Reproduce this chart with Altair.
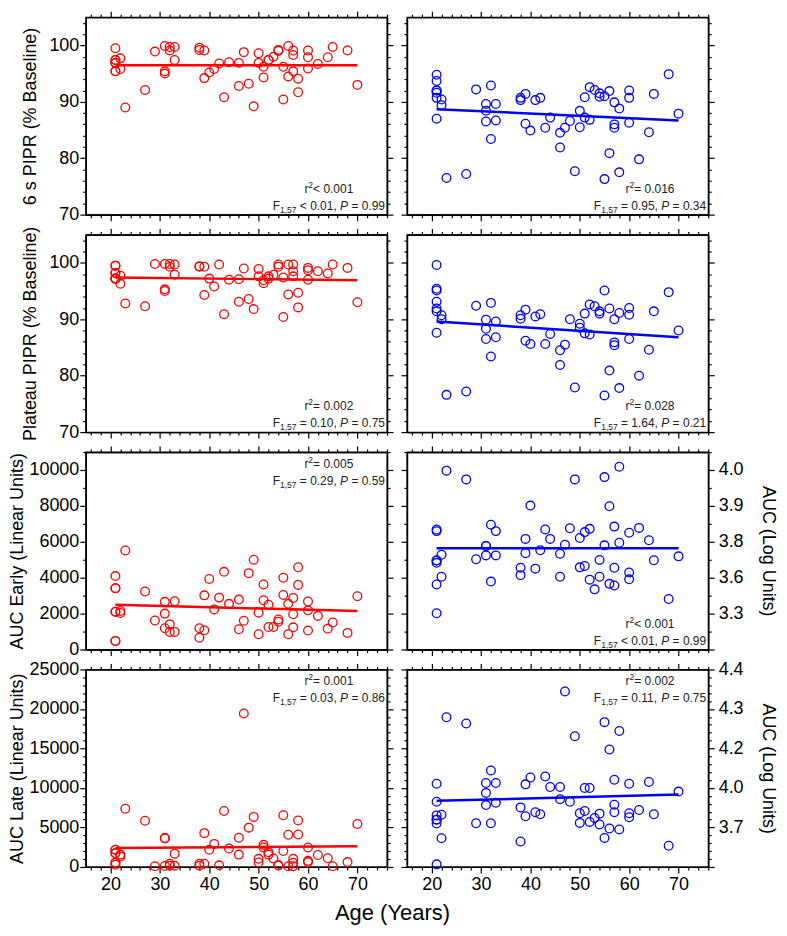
import altair as alt
import pandas as pd

FONT = "Liberation Sans"
RED = "#ff0000"
BLUE = "#0000ff"

# ---------------- data ----------------
AGES = ([21] * 7 + [22] * 2 + [23, 27, 29] + [31] * 3 + [32] * 2 + [33] * 2 + [38] * 2 + [39] * 2
        + [40, 41, 42, 43, 44] + [46] * 2 + [47, 48, 49] + [50] * 2 + [51] * 2 + [52] * 2 + [53]
        + [54] * 2 + [55] * 2 + [56] * 2 + [57] * 3 + [58] * 2 + [60] * 3 + [62, 64, 65, 68, 70])

PIPR6_RED = [99.5, 97.4, 97.4, 96.9, 96.9, 95.4, 95.4, 97.7, 95.8, 89.0, 92.1, 98.9,
             99.9, 95.4, 95.0, 99.7, 99.1, 99.7, 97.4, 99.6, 99.2, 99.1, 94.2,
             95.2, 95.8, 96.8, 90.8, 97.0, 96.9, 92.8, 98.8, 93.2, 89.2,
             98.6, 96.9, 96.2, 94.3, 97.4, 97.4, 98.0, 99.0, 99.2, 96.2, 90.4,
             99.9, 94.5, 99.1, 98.3, 95.4, 94.1, 91.7, 99.1, 97.9, 95.9,
             96.7, 97.9, 99.7, 99.1, 93.0]
PIPR6_BLUE = [94.8, 93.7, 92.0, 92.0, 91.6, 90.7, 87.0, 90.4, 89.4, 76.5, 77.2, 92.2,
              89.6, 88.4, 86.5, 92.9, 83.4, 89.6, 86.7, 90.7, 90.3, 91.4, 86.1,
              84.9, 90.3, 90.7, 85.4, 87.2, 84.5, 81.9, 85.4, 86.6, 77.7,
              88.4, 85.5, 87.2, 90.8, 92.6, 86.8, 92.1, 91.5, 90.9, 91.0, 76.3,
              91.9, 80.9, 89.9, 86.0, 85.4, 88.8, 77.5, 92.0, 90.7, 86.3,
              79.8, 84.6, 91.4, 94.9, 87.9]
PLATEAU_RED = [99.5, 99.5, 98.2, 98.2, 97.2, 97.2, 97.2, 97.7, 96.3, 92.8, 92.3, 99.8,
               99.8, 95.3, 95.0, 99.8, 99.3, 99.7, 97.9, 99.4, 99.3, 99.3, 94.3,
               97.2, 95.8, 99.7, 90.9, 97.0, 97.1, 93.1, 99.0, 93.6, 91.8,
               98.9, 97.6, 96.9, 96.4, 97.6, 97.2, 97.9, 99.7, 99.3, 97.4, 90.4,
               99.7, 94.4, 99.7, 98.5, 97.6, 94.7, 92.1, 99.1, 98.7, 97.0,
               98.5, 98.1, 99.7, 99.1, 93.0]
PLATEAU_BLUE = [99.6, 95.4, 95.1, 93.1, 91.9, 91.4, 87.6, 90.7, 90.0, 76.6, 77.2, 92.4,
                89.9, 88.3, 86.5, 92.9, 83.4, 89.6, 86.8, 90.7, 90.1, 91.7, 86.2,
                85.6, 90.5, 90.9, 85.6, 87.4, 84.5, 81.9, 85.5, 90.0, 77.9,
                89.2, 88.5, 87.5, 91.0, 92.6, 87.3, 92.3, 91.4, 91.0, 95.1, 76.5,
                91.9, 80.9, 90.0, 85.9, 85.4, 91.1, 77.8, 92.0, 90.8, 86.5,
                80.0, 84.6, 91.4, 94.8, 88.0]
EARLY_RED = [4091, 3418, 3418, 2109, 2109, 473, 473, 2145, 2036, 5514, 3236, 1618,
             2655, 2000, 1182, 1400, 982, 2691, 982, 1182, 655, 3018, 1073,
             3927, 2236, 2891, 4327, 2545, 2782, 1127, 1600, 4255, 5000,
             2055, 855, 3618, 2745, 2491, 1255, 1255, 1545, 1673, 4000, 3036,
             2545, 855, 2873, 1964, 1236, 4582, 3600, 2673, 2182, 1055,
             1873, 1164, 1509, 927, 2964]
EARLY_BLUE = [6685, 6595, 4955, 4955, 4829, 3622, 2018, 5279, 4054, 9964, 9477, 5027,
              5766, 5766, 5243, 6955, 3784, 6595, 5243, 4559, 4144, 6162, 5369,
              8018, 4505, 5532, 6685, 6162, 5333, 4054, 5838, 6757, 9477,
              6216, 4577, 6541, 4649, 6721, 3892, 3351, 4991, 4054, 9604, 5802,
              7982, 3658, 6847, 4559, 3568, 10180, 5946, 6505, 4288, 3910,
              6775, 6090, 4973, 2811, 5189]
LATE_RED = [2181, 2181, 1728, 1728, 535, 535, 288, 1564, 1317, 7366, 5844, 82,
            3663, 3621, 123, 412, 165, 1687, 165, 412, 165, 4280, 412,
            2181, 2922, 206, 7078, 2346, 3704, 1564, 19424, 4979, 6337,
            1029, 576, 2798, 2469, 1852, 1564, 1070, 206, 206, 6543, 2016,
            4074, 82, 1029, 535, 82, 5885, 4115, 2469, 782, 617,
            1523, 1111, 82, 617, 5432]
LATE_BLUE = [10542, 8264, 6529, 5992, 5992, 5496, 331, 6612, 3636, 18958, 18167, 5542,
             10625, 9375, 7833, 12208, 5542, 10625, 8125, 7542, 3223, 10458, 6417,
             11333, 6917, 6667, 11458, 10125, 10125, 8583, 22208, 8250, 16542,
             6800, 5579, 10000, 7083, 10000, 5702, 6198, 6750, 5372, 18333, 3678,
             14875, 4876, 11042, 7875, 6917, 17208, 4752, 10542, 6800, 6300,
             7208, 10750, 6667, 2686, 9542]

FIT_AGES = [21, 70]
FIT_PIPR6_RED = [96.5, 96.5]
FIT_PIPR6_BLUE = [88.7, 86.7]
FIT_PLATEAU_RED = [97.4, 96.9]
FIT_PLATEAU_BLUE = [89.6, 86.8]
FIT_EARLY_RED = [2490, 2145]
FIT_EARLY_BLUE = [5640, 5640]
FIT_LATE_RED = [2390, 2630]
FIT_LATE_BLUE = [8380, 9160]

STATS = [
    (("<", "0.001"), ("<", "0.01"), "0.99"),
    (("=", "0.016"), ("=", "0.95"), "0.34"),
    (("=", "0.002"), ("=", "0.10"), "0.75"),
    (("=", "0.028"), ("=", "1.64"), "0.21"),
    (("=", "0.005"), ("=", "0.29"), "0.59"),
    (("<", "0.001"), ("<", "0.01"), "0.99"),
    (("=", "0.001"), ("=", "0.03"), "0.86"),
    (("=", "0.002"), ("=", "0.11"), "0.75"),
]
STATS_TOP = [False, False, False, False, True, False, True, True]

X_MAJOR = [20, 30, 40, 50, 60, 70]
X_MINOR = [v for v in range(16, 77, 2) if v % 10 != 0]
PIPR_MAJOR = [70, 80, 90, 100]
PIPR_MINOR = [v for v in range(72, 106, 2) if v % 10 != 0]
EARLY_MAJOR = [0, 2000, 4000, 6000, 8000, 10000]
EARLY_MINOR = list(range(1000, 11001, 2000))
LATE_MAJOR = [0, 5000, 10000, 15000, 20000, 25000]
LATE_MINOR = [v for v in range(1000, 25000, 1000) if v % 5000 != 0]

W_PANEL = 302
H_PANEL = 198
LOG_EXPR = "datum.value > 0 ? format(log(datum.value) / LN10, '.1f') : ''"

# --------------- helpers ---------------
CW = {" ": 278, "=": 584, "<": 584, ",": 278, ".": 278, "F": 611, "P": 667, "r": 333}
for _d in "0123456789":
    CW[_d] = 556


def tw(s, fs):
    return sum(CW.get(c, 556) for c in s) * fs / 1000.0


def stat_frame(stat, top):
    (rrel, rval), (frel, fval), pval = stat
    line1 = [("r", 12, 0, False), ("2", 8.5, -5, False), (f"{rrel} {rval}", 12, 0, False)]
    line2 = [("F", 12, 0, False), ("1,57", 8.5, 3, False), (f" {frel} {fval}, ", 12, 0, False),
             ("P", 12, 0, True), (f" = {pval}", 12, 0, False)]
    w1 = sum(tw(t, f) for t, f, _, _ in line1)
    w2 = sum(tw(t, f) for t, f, _, _ in line2)
    x2 = W_PANEL - 2 - w2
    x1 = x2 + w2 / 2 - w1 / 2
    b1, b2 = (16, 33) if top else (H_PANEL - 22, H_PANEL - 5)
    rows = []
    for line, x, b in ((line1, x1, b1), (line2, x2, b2)):
        for t, f, dy, it in line:
            lead = len(t) - len(t.lstrip(" "))
            rows.append(dict(t=t.strip(" "), px=x + tw(t[:lead], f), py=b + dy, fs=f, it=it))
            x += tw(t, f)
    return pd.DataFrame(rows)


def ax(orient, values, size, labels=False, title=None, title_pad=4, expr=None, lab_pad=2):
    kw = dict(orient=orient, values=values, tickSize=size, tickWidth=1.2, tickColor="black",
              domain=True, domainColor="black", domainWidth=1.3, grid=False, ticks=True,
              labels=labels)
    if labels:
        kw.update(labelFont=FONT, labelFontSize=18, labelColor="black", labelPadding=lab_pad,
                  labelOverlap=False, format="d")
    if expr:
        kw["labelExpr"] = expr
    if title:
        kw.update(title=title, titleFont=FONT, titleFontSize=18, titleFontWeight="normal",
                  titleColor="black", titlePadding=title_pad)
    else:
        kw["title"] = None
    return alt.Axis(**kw)


def panel(vals, fit, color, ydom, ymaj, ymin, stat, top, left=True, left_title=None,
          left_pad=4, right_title=None, x_labels=False):
    df = pd.DataFrame({"age": AGES, "val": vals})
    fdf = pd.DataFrame({"age": FIT_AGES, "val": fit})
    xs = alt.Scale(domain=[15, 76], nice=False, zero=False)
    ys = alt.Scale(domain=ydom, nice=False, zero=False)
    pts = alt.Chart(df).mark_point(shape="circle", filled=False, color=color, size=76,
                                   strokeWidth=1.3, opacity=1).encode(
        x=alt.X("age:Q", scale=xs, axis=ax("bottom", X_MAJOR, 6, labels=x_labels, lab_pad=3)),
        y=alt.Y("val:Q", scale=ys, axis=ax("left", ymaj, 6, labels=left, title=left_title,
                                             title_pad=left_pad, lab_pad=1)),
    )
    line = alt.Chart(fdf).mark_line(color=color, strokeWidth=2.5).encode(
        x=alt.X("age:Q", scale=xs, axis=ax("top", X_MAJOR, 6)),
        y=alt.Y("val:Q", scale=ys, axis=ax("right", ymaj, 6, labels=bool(right_title),
                                             title=right_title, title_pad=15,
                                             expr=LOG_EXPR if right_title else None, lab_pad=4)),
    )
    minor1 = alt.Chart(fdf).mark_point(opacity=0).encode(
        x=alt.X("age:Q", scale=xs, axis=ax("bottom", X_MINOR, 3)),
        y=alt.Y("val:Q", scale=ys, axis=ax("left", ymin, 3)),
    )
    minor2 = alt.Chart(fdf).mark_point(opacity=0).encode(
        x=alt.X("age:Q", scale=xs, axis=ax("top", X_MINOR, 3)),
        y=alt.Y("val:Q", scale=ys, axis=ax("right", ymin, 3)),
    )
    sdf = stat_frame(stat, top)
    enc = dict(x=alt.X("px:Q", scale=None, axis=None), y=alt.Y("py:Q", scale=None, axis=None),
               text=alt.Text("t:N"), size=alt.Size("fs:Q", scale=None, legend=None))
    tn = alt.Chart(sdf[~sdf["it"]]).mark_text(align="left", baseline="alphabetic", font=FONT,
                                            color="#222222").encode(**enc)
    ti = alt.Chart(sdf[sdf["it"]]).mark_text(align="left", baseline="alphabetic", font=FONT,
                                           fontStyle="italic", color="#222222").encode(**enc)
    return (alt.layer(minor1, minor2, pts, line, tn, ti)
            .resolve_scale(x="independent", y="independent")
            .properties(width=W_PANEL, height=H_PANEL))


P_DOM = [70, 105]
panels = [
    panel(PIPR6_RED, FIT_PIPR6_RED, RED, P_DOM, PIPR_MAJOR, PIPR_MINOR, STATS[0], STATS_TOP[0],
          left_title="6 s PIPR (% Baseline)", left_pad=9),
    panel(PIPR6_BLUE, FIT_PIPR6_BLUE, BLUE, P_DOM, PIPR_MAJOR, PIPR_MINOR, STATS[1], STATS_TOP[1],
          left=False),
    panel(PLATEAU_RED, FIT_PLATEAU_RED, RED, P_DOM, PIPR_MAJOR, PIPR_MINOR, STATS[2], STATS_TOP[2],
          left_title="Plateau PIPR (% Baseline)", left_pad=9),
    panel(PLATEAU_BLUE, FIT_PLATEAU_BLUE, BLUE, P_DOM, PIPR_MAJOR, PIPR_MINOR, STATS[3],
          STATS_TOP[3], left=False),
    panel(EARLY_RED, FIT_EARLY_RED, RED, [0, 11000], EARLY_MAJOR, EARLY_MINOR, STATS[4],
          STATS_TOP[4], left_title="AUC Early (Linear Units)", left_pad=2),
    panel(EARLY_BLUE, FIT_EARLY_BLUE, BLUE, [0, 11000], EARLY_MAJOR, EARLY_MINOR, STATS[5],
          STATS_TOP[5], left=False, right_title="AUC (Log Units)"),
    panel(LATE_RED, FIT_LATE_RED, RED, [0, 25000], LATE_MAJOR, LATE_MINOR, STATS[6], STATS_TOP[6],
          left_title="AUC Late (Linear Units)", left_pad=2, x_labels=True),
    panel(LATE_BLUE, FIT_LATE_BLUE, BLUE, [0, 25000], LATE_MAJOR, LATE_MINOR, STATS[7],
          STATS_TOP[7], left=False, right_title="AUC (Log Units)", x_labels=True),
]

chart = (
    alt.concat(*panels, columns=2, spacing={"row": 20, "column": 20}, bounds="flush")
    .properties(
        title=alt.TitleParams("Age (Years)", orient="bottom", anchor="middle", fontSize=22,
                              font=FONT, fontWeight="normal", color="black", offset=9),
        padding={"left": 0, "top": 0, "right": 2, "bottom": 0},
    )
    .configure_view(stroke="black", strokeWidth=1.3)
)

chart.save("out.html", embed_options={"renderer": "svg", "actions": False})
